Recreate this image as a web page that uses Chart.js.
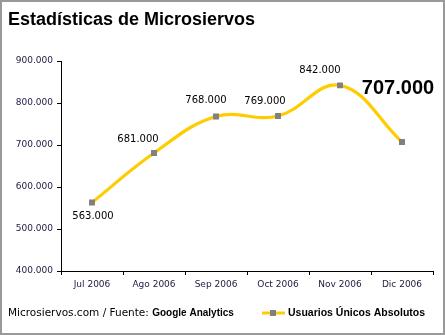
<!DOCTYPE html>
<html>
<head>
<meta charset="utf-8">
<script src="https://cdn.jsdelivr.net/npm/chart.js@4.4.1/dist/chart.umd.min.js"></script>
<style>
  html, body { margin: 0; padding: 0; background: #fff; }
  #wrap { width: 445px; height: 335px; position: relative; }
</style>
</head>
<body>
<div id="wrap"><canvas id="chart" width="445" height="335"></canvas></div>
<script>
const months = ["Jul 2006", "Ago 2006", "Sep 2006", "Oct 2006", "Nov 2006", "Dic 2006"];
const visitors = [563000, 681000, 768000, 769000, 842000, 707000];
const yTicks = [400000, 500000, 600000, 700000, 800000, 900000];

// where each value label sits relative to its point (px)
const labelDx = [1, -16, -10, -13, -20, -4];
const labelDy = [14, -14, -16, -15, -15, -54];

const fmt = v => v.toLocaleString("de-DE");
const navy = "#1a1a40";

const decorations = {
  id: "decorations",
  afterDraw(chart) {
    const c = chart.ctx;
    c.save();
    // outer frame
    c.strokeStyle = "#999";
    c.lineWidth = 2;
    c.strokeRect(1, 1, 443, 333);

    // title
    c.fillStyle = "#000";
    c.textBaseline = "alphabetic";
    c.textAlign = "left";
    c.font = "bold 18px 'Liberation Sans'";
    c.fillText("Estadísticas de Microsiervos", 8, 25);

    // footer
    c.textBaseline = "middle";
    c.font = "10.5px 'DejaVu Sans'";
    const src = "Microsiervos.com / Fuente: ";
    c.fillText(src, 8, 313);
    const w = c.measureText(src).width;
    c.font = "bold 10px 'Liberation Sans'";
    c.fillText("Google Analytics", 8 + w, 313);

    // legend
    c.strokeStyle = "#ffcc00";
    c.lineWidth = 3;
    c.beginPath();
    c.moveTo(262, 313);
    c.lineTo(285, 313);
    c.stroke();
    c.fillStyle = "#808080";
    c.fillRect(270, 310, 6, 6);
    c.fillStyle = "#000";
    c.font = "bold 10.5px 'Liberation Sans'";
    c.fillText("Usuarios Únicos Absolutos", 288, 313);

    // value labels
    const meta = chart.getDatasetMeta(0);
    c.textAlign = "center";
    meta.data.forEach((pt, i) => {
      const last = i === visitors.length - 1;
      c.font = last ? "bold 20px 'Liberation Sans'" : "10px 'DejaVu Sans'";
      c.fillText(fmt(visitors[i]), pt.x + labelDx[i], pt.y + labelDy[i]);
    });
    c.restore();
  }
};

new Chart(document.getElementById("chart"), {
  type: "line",
  data: {
    labels: months,
    datasets: [{
      label: "Usuarios Únicos Absolutos",
      data: visitors,
      borderColor: "#ffcc00",
      borderWidth: 3.2,
      tension: 0.4,
      pointStyle: "rect",
      pointRadius: 4.2,
      pointBorderWidth: 0,
      pointBackgroundColor: "#808080",
      fill: false
    }]
  },
  options: {
    responsive: false,
    animation: false,
    devicePixelRatio: 1,
    layout: { padding: { left: 0, right: 12, top: 61, bottom: 40 } },
    plugins: {
      legend: { display: false },
      tooltip: { enabled: false }
    },
    scales: {
      x: {
        offset: true,
        grid: { offset: true, drawOnChartArea: false, drawTicks: true, tickLength: 4, color: "#000" },
        border: { color: "#000", width: 1 },
        ticks: { color: navy, font: { family: "DejaVu Sans", size: 9 }, padding: 4, maxRotation: 0, autoSkip: false },
        afterFit(s) { s.height = 24; }
      },
      y: {
        min: yTicks[0],
        max: yTicks[yTicks.length - 1],
        afterBuildTicks(s) { s.ticks = yTicks.map(v => ({ value: v })); },
        grid: { drawOnChartArea: false, drawTicks: true, tickLength: 4, color: "#000" },
        border: { color: "#000", width: 1 },
        ticks: { color: navy, font: { family: "DejaVu Sans", size: 9 }, padding: 4, callback: v => fmt(v) },
        afterFit(s) { s.width = 61; }
      }
    }
  },
  plugins: [decorations]
});
</script>
</body>
</html>
